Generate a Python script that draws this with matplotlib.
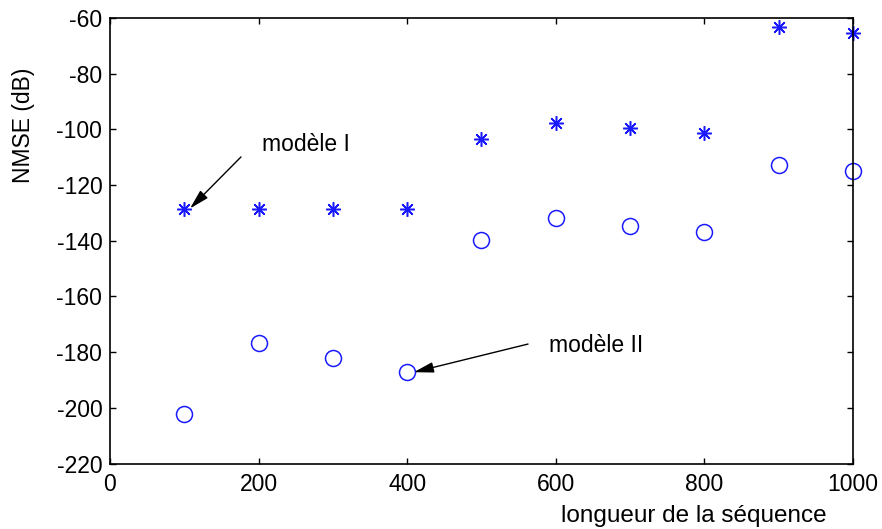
import matplotlib
matplotlib.use("Agg")
import matplotlib.pyplot as plt

plt.rcParams['font.family'] = ['Liberation Sans', 'DejaVu Sans']
plt.rcParams['axes.unicode_minus'] = False

x = [100, 200, 300, 400, 500, 600, 700, 800, 900, 1000]
modele_1 = [-128.6, -128.6, -128.6, -128.6, -103.5, -97.8, -99.5, -101.4, -63.3, -65.3]
modele_2 = [-202.1, -176.9, -182.0, -187.3, -139.6, -131.7, -134.6, -137.0, -112.9, -115.0]

xticks = [0, 200, 400, 600, 800, 1000]
yticks = [-220, -200, -180, -160, -140, -120, -100, -80, -60]

fig = plt.figure(figsize=(8.82, 5.29), dpi=100)
L, R, T, B = 110, 853, 18, 463.5
ax = fig.add_axes([L/882, 1 - B/529, (R-L)/882, (B-T)/529])

ax.plot(x, modele_1, linestyle='none', marker=(8, 2, 0), markersize=10.5,
        markeredgecolor='#1a1aff', markeredgewidth=1.1, clip_on=False)
ax.plot(x, modele_2, linestyle='none', marker='o', markersize=11.5,
        markerfacecolor='none', markeredgecolor='#1a1aff', markeredgewidth=1.1,
        clip_on=False)

ax.set_xlim(0, 1000)
ax.set_ylim(-220, -60)
ax.set_xticks(xticks)
ax.set_yticks(yticks)
ax.tick_params(direction='in', length=4, width=1, labelsize=16.5, top=True, right=True,
               colors='black')
ax.tick_params(axis='x', pad=7)
ax.tick_params(axis='y', pad=5.5)
for s in ax.spines.values():
    s.set_linewidth(1.2)

ax.set_xlabel('longueur de la séquence', fontsize=17.5)
ax.xaxis.set_label_coords((694-L)/(R-L), -(522-B)/(B-T))
ax.xaxis.label.set_va('baseline')
ax.set_ylabel('NMSE (dB)', fontsize=16.5)
ax.yaxis.set_label_coords(-(L-23)/(R-L), 1 - (125-T)/(B-T))
ax.yaxis.label.set_va('center')

arrow_style = dict(arrowstyle='-|>,head_length=0.6,head_width=0.16', color='black',
                   lw=1.0, mutation_scale=20, shrinkA=0, shrinkB=0)

ax.text(204.6, -105.6, 'modèle I', fontsize=16.5, va='center', ha='left')
ax.annotate('', xy=(107.7, -128.4), xytext=(176.3, -109.9), arrowprops=arrow_style)

ax.text(591, -177.5, 'modèle II', fontsize=16.5, va='center', ha='left')
ax.annotate('', xy=(409, -187.2), xytext=(562.6, -177.1), arrowprops=arrow_style)

fig.savefig('out.png', dpi=100)
